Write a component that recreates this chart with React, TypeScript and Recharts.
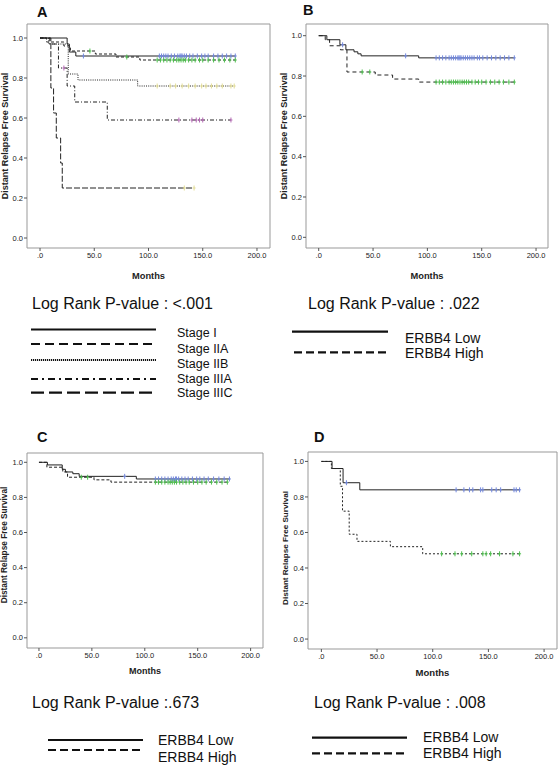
import React from 'react';
import { ComposedChart, Line, XAxis, YAxis, ReferenceArea } from 'recharts';

// ---- panel A: stage ----
const aStageITimes = [0, 25, 27, 33];
const aStageISurv = [1, 0.97, 0.93, 0.91];
const aStageICens = [40, 110, 112, 114, 116, 118, 121, 124, 127, 129, 130, 131, 133, 135, 138, 141, 145, 149, 152, 155, 160, 164, 168, 172, 176, 180];

const aStageIIATimes = [0, 6, 22, 28, 51, 70, 92];
const aStageIIASurv = [1, 0.98, 0.96, 0.935, 0.92, 0.905, 0.89];
const aStageIIACens = [46, 80, 108, 111, 114, 117, 120, 123, 126, 128, 130, 132, 134, 137, 140, 143, 147, 150, 155, 160, 165, 170, 175, 180];

const aStageIIBTimes = [0, 8, 26, 35, 90];
const aStageIIBSurv = [1, 0.97, 0.82, 0.79, 0.76];
const aStageIIBCens = [108, 120, 125, 131, 137, 143, 149, 153, 158, 163, 168, 176, 179];

const aStageIIIATimes = [0, 9, 17, 25, 32, 62];
const aStageIIIASurv = [1, 0.97, 0.85, 0.76, 0.68, 0.59];
const aStageIIIACens = [22, 128, 140, 144, 147, 150, 176];

const aStageIIICTimes = [0, 10, 12.5, 15, 19, 20.5];
const aStageIIICSurv = [1, 0.75, 0.625, 0.5, 0.375, 0.25];
const aStageIIICCens = [133, 142];

// ---- panel B: ERBB4 ----
const bLowTimes = [0, 7.5, 19.5, 25, 32.5, 36, 39, 92];
const bLowSurv = [1, 0.98, 0.955, 0.93, 0.92, 0.91, 0.9, 0.89];
const bLowCens = [22, 80, 108, 111, 114, 117, 120, 122, 124, 126, 128, 129, 130, 131, 133, 135, 137, 139, 141, 143, 146, 148, 151, 155, 159, 163, 167, 171, 175, 180];

const bHighTimes = [0, 6, 10, 20, 26, 52, 68, 92];
const bHighSurv = [1, 0.98, 0.95, 0.93, 0.82, 0.805, 0.785, 0.77];
const bHighCens = [40, 47, 108, 111, 114, 117, 120, 122, 124, 126, 128, 130, 132, 134, 136, 138, 141, 144, 147, 150, 154, 158, 162, 166, 170, 175, 180];

// ---- panel C: ERBB4 ----
const cLowTimes = [0, 8, 22, 25, 32, 38, 92];
const cLowSurv = [1, 0.985, 0.96, 0.945, 0.935, 0.92, 0.905];
const cLowCens = [81, 110, 113, 116, 119, 122, 125, 127, 129, 130, 132, 135, 138, 141, 145, 149, 152, 156, 160, 165, 170, 175, 180];

const cHighTimes = [0, 7.5, 22.5, 27, 52, 68];
const cHighSurv = [1, 0.972, 0.945, 0.915, 0.9, 0.887];
const cHighCens = [40, 46, 110, 113, 116, 119, 122, 124, 126, 128, 130, 133, 136, 139, 142, 146, 150, 154, 158, 163, 168, 173, 178];

// ---- panel D: ERBB4 ----
const dLowTimes = [0, 9.6, 19.5, 34.5];
const dLowSurv = [1, 0.96, 0.88, 0.84];
const dLowCens = [22.5, 121, 128, 133, 136, 143, 145, 153, 157, 161, 173, 175, 178];

const dHighTimes = [0, 9, 17, 19, 25, 32, 62, 91];
const dHighSurv = [1, 0.96, 0.86, 0.72, 0.59, 0.55, 0.52, 0.48];
const dHighCens = [108, 120, 126, 135, 145, 148, 152, 160, 172, 178];

const xTicks = [0, 50, 100, 150, 200];
const yTicks = [0, 0.2, 0.4, 0.6, 0.8, 1.0];

const FONT = 'Liberation Sans, Arial, Helvetica, sans-serif';
const LINE = '#222';

type Pt = { t: number; s: number };

function stepValue(times: number[], surv: number[], t: number) {
  let v = surv[0];
  for (let i = 0; i < times.length; i++) if (times[i] <= t) v = surv[i];
  return v;
}

function curve(times: number[], surv: number[], cens: number[]): Pt[] {
  const pts = times.map((t, i) => ({ t, s: surv[i] }));
  const end = Math.max(...cens);
  pts.push({ t: end, s: surv[surv.length - 1] });
  return pts;
}

function censPts(times: number[], surv: number[], cens: number[]): Pt[] {
  return cens.map((t) => ({ t, s: stepValue(times, surv, t) }));
}

type Series = { name: string; times: number[]; surv: number[]; cens: number[]; dash?: string; color: string };

const CensorMark = (props: any) => {
  const { cx, cy, color, index } = props;
  if (cx == null || cy == null) return <g key={index} />;
  return (
    <g key={index}>
      <line x1={cx} x2={cx} y1={cy - 2.5} y2={cy + 2.5} stroke={color} strokeWidth={1} />
      <line x1={cx - 1.5} x2={cx + 1.5} y1={cy} y2={cy} stroke={color} strokeWidth={1} />
    </g>
  );
};

type PanelProps = {
  left: number; top: number; width: number; height: number;
  marginTop: number; marginRight: number; yAxisWidth: number; xAxisHeight: number;
  xDomain: [number, number]; yDomain: [number, number]; series: Series[];
};

const KMPanel = ({ left, top, width, height, marginTop, marginRight, yAxisWidth, xAxisHeight, xDomain, yDomain, series }: PanelProps) => (
  <div style={{ position: 'absolute', left, top }}>
    <ComposedChart width={width} height={height} margin={{ top: marginTop, right: marginRight, bottom: 0, left: 0 }} style={{ fontFamily: FONT }}>
      <XAxis type="number" dataKey="t" domain={xDomain} ticks={xTicks} allowDataOverflow height={xAxisHeight}
        tickFormatter={(v: number) => (v === 0 ? '.0' : v.toFixed(1))}
        tick={{ fontSize: 7.5, fill: '#222', fontFamily: FONT }} tickSize={3} tickMargin={2}
        axisLine={false} tickLine={{ stroke: '#555' }} />
      <YAxis type="number" dataKey="s" domain={yDomain} ticks={yTicks} allowDataOverflow width={yAxisWidth}
        tickFormatter={(v: number) => v.toFixed(1)}
        tick={{ fontSize: 7.5, fill: '#222', fontFamily: FONT }} tickSize={3} tickMargin={1}
        axisLine={false} tickLine={{ stroke: '#555' }} />
      <ReferenceArea x1={xDomain[0]} x2={xDomain[1]} y1={yDomain[0]} y2={yDomain[1]} fill="none" stroke="#999" strokeWidth={1} ifOverflow="visible" />
      {series.map((s) => (
        <Line key={s.name} data={curve(s.times, s.surv, s.cens)} dataKey="s" type="stepAfter" stroke={LINE}
          strokeWidth={1} strokeDasharray={s.dash} dot={false} activeDot={false} isAnimationActive={false} />
      ))}
      {series.map((s) => (
        <Line key={s.name + '-c'} data={censPts(s.times, s.surv, s.cens)} dataKey="s" stroke="none"
          dot={(p: any) => <CensorMark key={p.index} {...p} color={s.color} />} activeDot={false} isAnimationActive={false} />
      ))}
    </ComposedChart>
  </div>
);

const BLUE = '#7388dc';
const GREEN = '#4fbf4f';
const YELLOW = '#e2dc96';
const PURPLE = '#b56bb5';

const panelA: Series[] = [
  { name: 'Stage I', times: aStageITimes, surv: aStageISurv, cens: aStageICens, color: BLUE },
  { name: 'Stage IIA', times: aStageIIATimes, surv: aStageIIASurv, cens: aStageIIACens, dash: '3 2', color: GREEN },
  { name: 'Stage IIB', times: aStageIIBTimes, surv: aStageIIBSurv, cens: aStageIIBCens, dash: '1 1.2', color: YELLOW },
  { name: 'Stage IIIA', times: aStageIIIATimes, surv: aStageIIIASurv, cens: aStageIIIACens, dash: '4 2 1 2', color: PURPLE },
  { name: 'Stage IIIC', times: aStageIIICTimes, surv: aStageIIICSurv, cens: aStageIIICCens, dash: '6 2', color: YELLOW },
];
const panelB: Series[] = [
  { name: 'ERBB4 Low', times: bLowTimes, surv: bLowSurv, cens: bLowCens, color: BLUE },
  { name: 'ERBB4 High', times: bHighTimes, surv: bHighSurv, cens: bHighCens, dash: '4 3', color: GREEN },
];
const panelC: Series[] = [
  { name: 'ERBB4 Low', times: cLowTimes, surv: cLowSurv, cens: cLowCens, color: BLUE },
  { name: 'ERBB4 High', times: cHighTimes, surv: cHighSurv, cens: cHighCens, dash: '3 2', color: GREEN },
];
const panelD: Series[] = [
  { name: 'ERBB4 Low', times: dLowTimes, surv: dLowSurv, cens: dLowCens, color: BLUE },
  { name: 'ERBB4 High', times: dHighTimes, surv: dHighSurv, cens: dHighCens, dash: '2 2', color: GREEN },
];

const stageLegend = [
  { label: 'Stage I', dash: undefined, ly: 329.5, ty: 336.7, w: 2.2 },
  { label: 'Stage IIA', dash: '9 5', ly: 344, ty: 352.7, w: 2.2 },
  { label: 'Stage IIB', dash: '1.2 0.8', ly: 360, ty: 368.3, w: 2 },
  { label: 'Stage IIIA', dash: '7 4 2 4', ly: 379, ty: 383.3, w: 2.2 },
  { label: 'Stage IIIC', dash: '13 5', ly: 392.7, ty: 397.3, w: 2.2 },
];

const YLABEL = 'Distant Relapse Free Survival';

export default function App() {
  return (
    <div style={{ position: 'absolute', left: 0, top: 0, width: 558, height: 765, background: '#fff', fontFamily: FONT }}>
      <KMPanel left={0} top={0} width={279} height={282} marginTop={24} marginRight={9} yAxisWidth={27} xAxisHeight={34}
        xDomain={[-12, 212]} yDomain={[-0.05, 1.07]} series={panelA} />
      <KMPanel left={279} top={0} width={279} height={282} marginTop={24} marginRight={10} yAxisWidth={27} xAxisHeight={34}
        xDomain={[-11.7, 211]} yDomain={[-0.053, 1.058]} series={panelB} />
      <KMPanel left={0} top={410} width={279} height={266} marginTop={43} marginRight={16} yAxisWidth={27} xAxisHeight={28}
        xDomain={[-11.3, 211.7]} yDomain={[-0.058, 1.053]} series={panelC} />
      <KMPanel left={279} top={410} width={279} height={268} marginTop={42} marginRight={1} yAxisWidth={29} xAxisHeight={29}
        xDomain={[-12, 211.6]} yDomain={[-0.056, 1.053]} series={panelD} />

      <svg width={558} height={765} style={{ position: 'absolute', left: 0, top: 0, pointerEvents: 'none' }} fontFamily={FONT}>
        {/* panel letters */}
        <text x={37} y={16.5} fontSize={14.5} fontWeight="bold" fill="#111">A</text>
        <text x={303} y={15} fontSize={14.5} fontWeight="bold" fill="#111">B</text>
        <text x={37} y={442} fontSize={14.5} fontWeight="bold" fill="#111">C</text>
        <text x={314} y={442.3} fontSize={14.5} fontWeight="bold" fill="#111">D</text>

        {/* axis titles */}
        <text x={148.5} y={278.5} fontSize={9.3} fontWeight="bold" textAnchor="middle" fill="#222">Months</text>
        <text x={427} y={278.5} fontSize={9.3} fontWeight="bold" textAnchor="middle" fill="#222">Months</text>
        <text x={145} y={673.5} fontSize={9} fontWeight="bold" textAnchor="middle" fill="#222">Months</text>
        <text x={432.5} y={676} fontSize={9.5} fontWeight="bold" textAnchor="middle" fill="#222">Months</text>
        <text transform="translate(7.5,136) rotate(-90)" fontSize={9} fontWeight="bold" textAnchor="middle" fill="#222">{YLABEL}</text>
        <text transform="translate(286.5,136) rotate(-90)" fontSize={9} fontWeight="bold" textAnchor="middle" fill="#222">{YLABEL}</text>
        <text transform="translate(7,545) rotate(-90)" fontSize={8.3} fontWeight="bold" textAnchor="middle" fill="#222">{YLABEL}</text>
        <text transform="translate(288,548) rotate(-90)" fontSize={8.1} fontWeight="bold" textAnchor="middle" fill="#222">{YLABEL}</text>

        {/* log rank */}
        <text x={32} y={309} fontSize={16} fill="#111">Log Rank P-value : &lt;.001</text>
        <text x={308} y={309} fontSize={16} fill="#111">Log Rank P-value : .022</text>
        <text x={32} y={707.5} fontSize={16} fill="#111">Log Rank P-value :.673</text>
        <text x={314} y={707.5} fontSize={16} fill="#111">Log Rank P-value : .008</text>

        {/* legend A */}
        {stageLegend.map((l) => (
          <g key={l.label}>
            <line x1={31} x2={156} y1={l.ly} y2={l.ly} stroke="#111" strokeWidth={l.w} strokeDasharray={l.dash} />
            <text x={177} y={l.ty} fontSize={12.5} fill="#111">{l.label}</text>
          </g>
        ))}

        {/* legend B */}
        <line x1={292} x2={388} y1={331.7} y2={331.7} stroke="#111" strokeWidth={2.2} />
        <line x1={294} x2={388} y1={352.3} y2={352.3} stroke="#111" strokeWidth={2.2} strokeDasharray="8 4" />
        <text x={405} y={342.7} fontSize={14} fill="#111">ERBB4 Low</text>
        <text x={405} y={358.3} fontSize={14} fill="#111">ERBB4 High</text>

        {/* legend C */}
        <line x1={48} x2={143} y1={740} y2={740} stroke="#111" strokeWidth={2.2} />
        <line x1={48} x2={143} y1={750} y2={750} stroke="#111" strokeWidth={2.2} strokeDasharray="8 4" />
        <text x={158} y={745} fontSize={14} fill="#111">ERBB4 Low</text>
        <text x={158} y={761.5} fontSize={14} fill="#111">ERBB4 High</text>

        {/* legend D */}
        <line x1={312} x2={407} y1={737.7} y2={737.7} stroke="#111" strokeWidth={2.2} />
        <line x1={312} x2={407} y1={753.3} y2={753.3} stroke="#111" strokeWidth={2.2} strokeDasharray="8 4" />
        <text x={423} y={742.3} fontSize={14} fill="#111">ERBB4 Low</text>
        <text x={423} y={758.3} fontSize={14} fill="#111">ERBB4 High</text>
      </svg>
    </div>
  );
}
